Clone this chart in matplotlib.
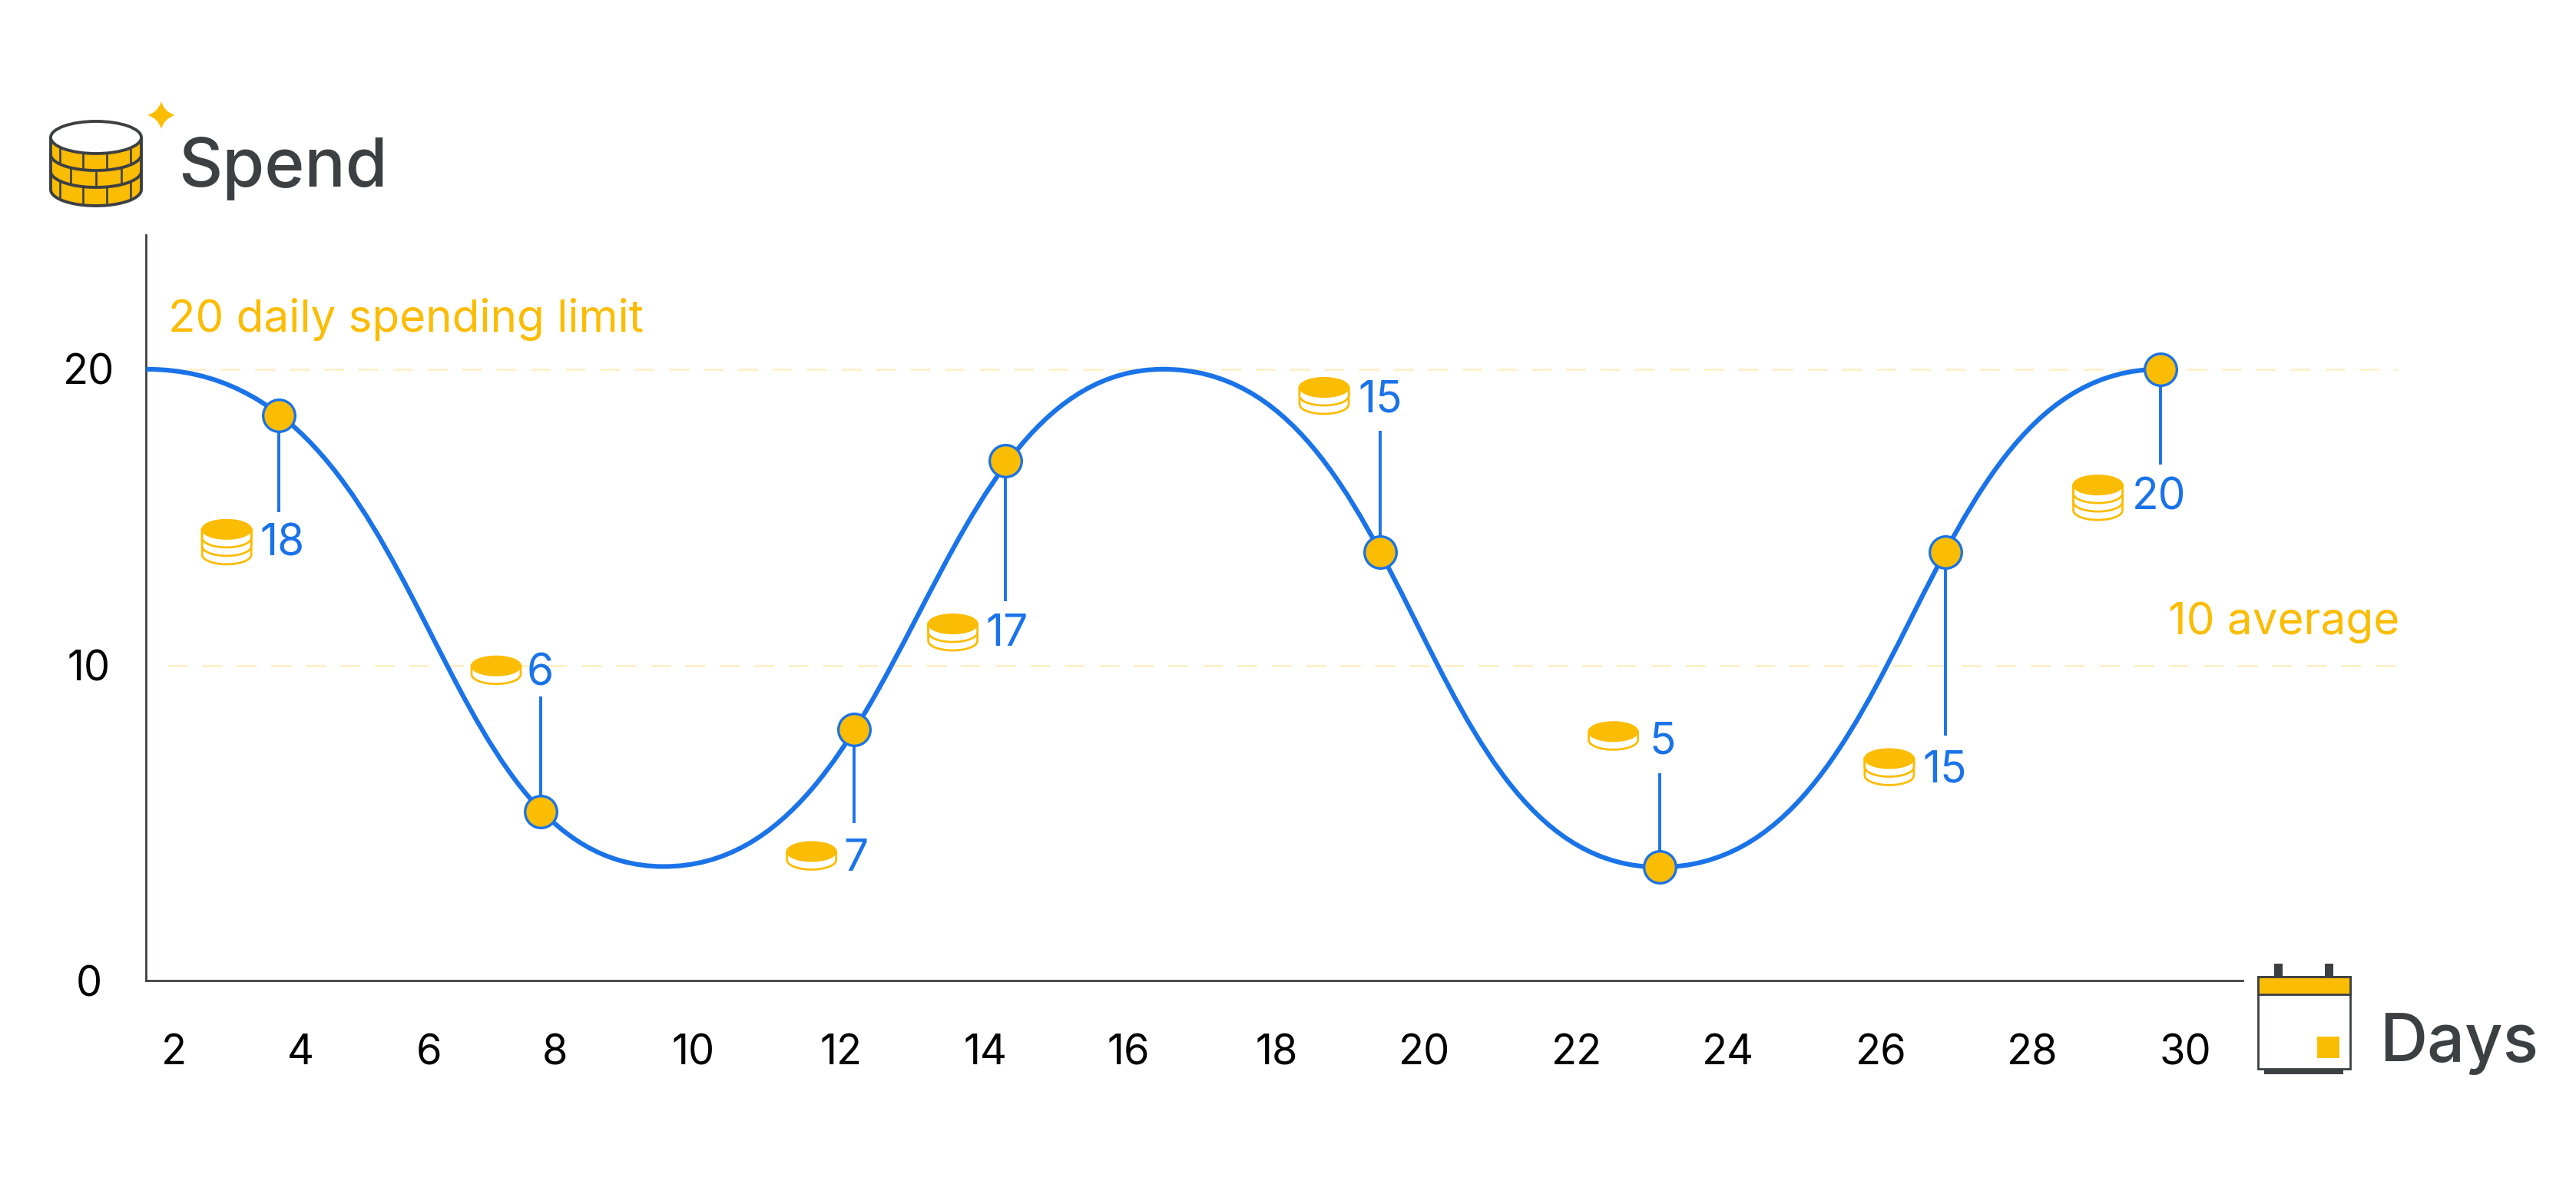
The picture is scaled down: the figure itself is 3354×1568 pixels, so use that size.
import numpy as np
import matplotlib
matplotlib.use("Agg")
import matplotlib.pyplot as plt
from matplotlib.path import Path
from matplotlib.patches import PathPatch, Ellipse, Rectangle, Polygon

FONT = "Inter"
YELLOW = "#FBBC04"
BLUE = "#1A73E8"
GRAY = "#3C4043"
DASH = "#FEF0CB"

# ---------- data ----------
# turning points of the spend curve
curve_day = [1.56, 9.57, 16.47, 23.09, 29.68]
curve_spend = [20.0, 3.62, 20.0, 3.6, 20.0]
point_day = [3.66, 7.77, 12.18, 14.28, 19.40, 23.09, 26.85, 29.68]
point_spend = [18.44, 5.37, 7.98, 16.9, 13.84, 3.6, 13.84, 20.0]
leader_end = [15.18, 9.02, 5.0, 12.17, 17.93, 6.57, 7.77, 16.79]
point_labels = ["18", "6", "7", "17", "15", "5", "15", "20"]
coin_stacks = [3, 1, 1, 2, 2, 1, 2, 3]
x_ticks = [2, 4, 6, 8, 10, 12, 14, 16, 18, 20, 22, 24, 26, 28, 30]
y_ticks = [0, 10, 20]
limit_value = 20
average_value = 10

# ---------- layout (full-size pixels) ----------
W, H = 3354, 1568
S = 3354 / 1568
x_px = [89, 106, 183, 261, 338, 422, 512, 600, 687, 777, 867, 960, 1052, 1145, 1237, 1330, 1463]
x_day = [1.56] + x_ticks + [32.86]
y_px = [0, 191.8, 372.2, 454]
y_val = [0, 10, 20, 24.53]
# bezier handle lengths of each curve segment, as a share of its width
handles = [(0.555, 0.537), (0.492, 0.524), (0.507, 0.507), (0.503, 0.503)]


def xf(v):
    return np.interp(v, x_day, x_px)


def xi(v):
    return np.interp(v, x_px, x_day)


def yf(v):
    return np.interp(v, y_val, y_px)


def yi(v):
    return np.interp(v, y_px, y_val)


fig = plt.figure(figsize=(W / 100, H / 100), dpi=100, facecolor="white")
left, right, top, bottom = 89 * S, 1463 * S, (597 - 454) * S, 597 * S
ax = fig.add_axes([left / W, 1 - bottom / H, (right - left) / W, (bottom - top) / H])
ax.set_xscale("function", functions=(xf, xi))
ax.set_yscale("function", functions=(yf, yi))

ax.plot([1.64, 32.78], [limit_value] * 2, color=DASH, lw=2.2, dashes=(8.5, 6.2), zorder=1, dash_capstyle="butt")
ax.plot([1.90, 32.80], [average_value] * 2, color=DASH, lw=2.2, dashes=(8.5, 6.2), zorder=1, dash_capstyle="butt")

verts = [(curve_day[0], curve_spend[0])]
codes = [Path.MOVETO]
for i, (a, b) in enumerate(handles):
    p0, p1 = xf(curve_day[i]), xf(curve_day[i + 1])
    verts += [(xi(p0 + a * (p1 - p0)), curve_spend[i]),
              (xi(p0 + b * (p1 - p0)), curve_spend[i + 1]),
              (curve_day[i + 1], curve_spend[i + 1])]
    codes += [Path.CURVE4] * 3
ax.add_patch(PathPatch(Path(verts, codes), fill=False, edgecolor=BLUE, lw=4.4, zorder=3, capstyle="butt"))

for dd, a, b in zip(point_day, point_spend, leader_end):
    ax.plot([dd, dd], [a, b], color=BLUE, lw=2.8, zorder=4, solid_capstyle="butt")
ax.plot(point_day, point_spend, ls="none", marker="o", ms=30, mfc=YELLOW, mec=BLUE, mew=2.4, zorder=5)

ax.set_xlim(1.56, 32.86)
ax.set_ylim(0, 24.53)
ax.set_xticks(x_ticks)
ax.set_xticklabels([str(v) for v in x_ticks])
ax.set_yticks(y_ticks)
ax.set_yticklabels([str(v) for v in y_ticks])
ax.minorticks_off()
ax.tick_params(axis="x", length=0, pad=50, labelsize=39, labelcolor="black")
ax.tick_params(axis="y", length=0, pad=54, labelsize=39, labelcolor="black")
for t in ax.get_xticklabels() + ax.get_yticklabels():
    t.set_fontfamily(FONT)
for t in ax.get_yticklabels():
    t.set_ha("center")
ax.patch.set_alpha(0)
for s in ["top", "right"]:
    ax.spines[s].set_visible(False)
for s in ["left", "bottom"]:
    ax.spines[s].set_color(GRAY)
    ax.spines[s].set_linewidth(2.0)
ax.spines["bottom"].set_bounds(1.56, 30.75)

# ---------- overlay in pixels for icons and texts ----------
ov = fig.add_axes([0, 0, 1, 1])
ov.set_xlim(0, W)
ov.set_ylim(H, 0)
ov.axis("off")
ov.patch.set_alpha(0)


def coin(cx, cy, n):
    w, eh, step = 64, 25, 11
    total = eh + step * n
    ytop = cy - total / 2 + eh / 2
    t = np.linspace(np.pi, 0, 40)
    for i in range(n, 0, -1):
        yy = ytop + i * step
        xs = np.r_[cx - w / 2, cx + w / 2 * np.cos(t), cx + w / 2]
        ys = np.r_[ytop, yy + eh / 2 * np.sin(t), ytop]
        ov.add_patch(Polygon(np.column_stack([xs, ys]), closed=True, fc="white", ec=YELLOW, lw=2.0, zorder=6))
    ov.add_patch(Ellipse((cx, ytop), w, eh, fc=YELLOW, ec=YELLOW, lw=1.5, zorder=7))


coin_centres = [(138, 330), (302, 408), (494, 521), (580, 385), (806, 241), (982, 448), (1150, 467), (1277, 303)]
label_centres = [(172, 331), (329, 410), (521, 523), (613, 386), (840, 244), (1012, 452), (1184, 469), (1314, 303)]
for (cx, cy), n in zip(coin_centres, coin_stacks):
    coin(cx * S, cy * S, n)
for (lx, ly), s in zip(label_centres, point_labels):
    ov.text(lx * S, ly * S, s, color=BLUE, fontsize=41, family=FONT, ha="center", va="center", zorder=8)

ov.text(232, 243, "Spend", color=GRAY, fontsize=64, family=FONT, ha="left", va="baseline", weight="medium")
ov.text(3098, 1382, "Days", color=GRAY, fontsize=62, family=FONT, ha="left", va="baseline", weight="medium")
ov.text(219, 432, "20 daily spending limit", color=YELLOW, fontsize=42, family=FONT, ha="left", va="baseline")
ov.text(3124, 826, "10 average", color=YELLOW, fontsize=42, family=FONT, ha="right", va="baseline")

# spend icon: brick cylinder
l, r, ty, eh = 66, 184, 179, 42
cx = (l + r) / 2
t = np.linspace(np.pi, 0, 60)
body_x = np.r_[l, cx + (r - l) / 2 * np.cos(t), r]
body_y = np.r_[ty, 247 + eh / 2 * np.sin(t), ty]
ov.add_patch(Polygon(np.column_stack([body_x, body_y]), closed=True, fc=YELLOW, ec=GRAY, lw=2.8, zorder=6, joinstyle="round"))
for off, fxs in [(0, [0.1, 0.36, 0.62, 0.88]), (22, [0.22, 0.5, 0.78]), (44, [0.1, 0.36, 0.62, 0.88])]:
    for fx in fxs:
        x = l + (r - l) * fx
        yb0 = 179 + off + eh / 2 * np.sqrt(max(0, 1 - ((x - cx) / ((r - l) / 2)) ** 2))
        ov.plot([x, x], [yb0, yb0 + 22], color=GRAY, lw=1.9, zorder=7, solid_capstyle="butt")
for off in (22, 44):
    ov.plot(cx + (r - l) / 2 * np.cos(t), 179 + off + eh / 2 * np.sin(t), color=GRAY, lw=2.8, zorder=7)
ov.add_patch(Ellipse((cx, ty), r - l, eh, fc="white", ec=GRAY, lw=2.8, zorder=8))

# sparkle
sx, sy, a = 210, 150, 18
sp_v = [(sx, sy - a), (sx + 4, sy - 4), (sx + a, sy), (sx + 4, sy + 4), (sx, sy + a), (sx - 4, sy + 4), (sx - a, sy), (sx - 4, sy - 4), (sx, sy - a)]
sp_c = [Path.MOVETO] + [Path.CURVE3] * 8
ov.add_patch(PathPatch(Path(sp_v, sp_c), fc=YELLOW, ec="none", zorder=8))

# calendar icon
ov.add_patch(Rectangle((2961, 1255), 11, 18, fc=GRAY, ec="none"))
ov.add_patch(Rectangle((3027, 1255), 11.5, 18, fc=GRAY, ec="none"))
ov.add_patch(Rectangle((2948, 1392), 103, 7, fc=GRAY, ec="none"))
ov.add_patch(Rectangle((2940, 1272), 120, 120, fc="white", ec=GRAY, lw=2.0, zorder=3))
ov.add_patch(Rectangle((2940, 1272), 120, 23, fc=YELLOW, ec=GRAY, lw=2.0, zorder=4))
ov.add_patch(Rectangle((3017, 1350), 29, 28, fc=YELLOW, ec="none", zorder=5))

fig.savefig("out.png", dpi=100, facecolor="white")
